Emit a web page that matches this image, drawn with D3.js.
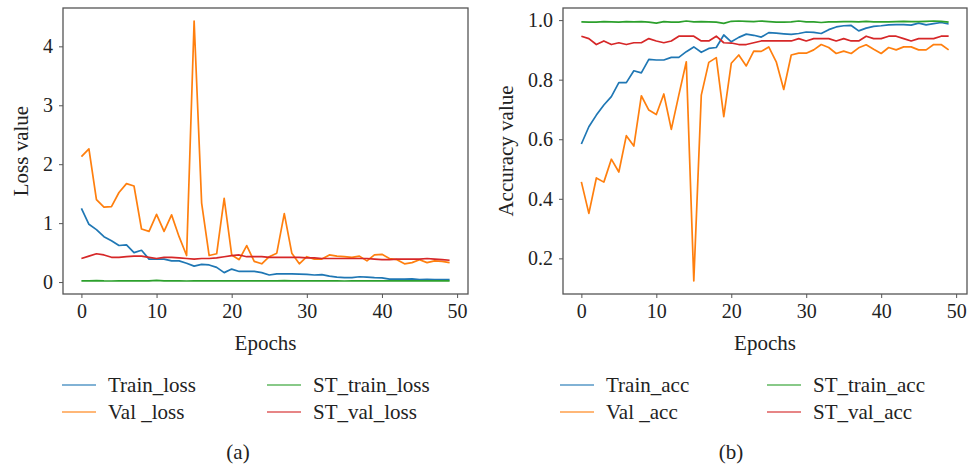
<!DOCTYPE html>
<html>
<head>
<meta charset="utf-8">
<script src="https://cdn.jsdelivr.net/npm/d3@7"></script>
<style>
  body { margin: 0; background: #fff; }
  svg text { font-family: "Liberation Serif", "DejaVu Serif", serif; fill: #222; }
</style>
</head>
<body>
<div class="chart-container"></div>
<script>
//! DATA
const epochs = [0,1,2,3,4,5,6,7,8,9,10,11,12,13,14,15,16,17,18,19,20,21,22,23,24,
  25,26,27,28,29,30,31,32,33,34,35,36,37,38,39,40,41,42,43,44,45,46,47,48,49];
const xTicks = [0, 10, 20, 30, 40, 50];

// (a) loss
const trainLoss = [1.25,0.98,0.89,0.77,0.70,0.62,0.63,0.50,0.54,0.39,0.39,0.39,0.36,0.36,0.32,0.27,0.30,0.29,0.25,0.16,
  0.22,0.18,0.18,0.18,0.16,0.12,0.14,0.14,0.14,0.135,0.13,0.12,0.125,0.10,0.085,0.075,0.075,0.09,0.085,0.075,
  0.07,0.05,0.05,0.05,0.055,0.04,0.045,0.04,0.04,0.04];
const valLoss = [2.13,2.26,1.40,1.27,1.28,1.52,1.67,1.63,0.90,0.86,1.15,0.86,1.14,0.77,0.45,4.43,1.34,0.45,0.48,1.42,
  0.46,0.38,0.62,0.35,0.31,0.43,0.49,1.16,0.49,0.31,0.43,0.39,0.39,0.46,0.44,0.43,0.42,0.44,0.36,0.46,
  0.47,0.40,0.38,0.31,0.33,0.38,0.33,0.36,0.35,0.33];
const stTrainLoss = [0.02,0.02,0.025,0.02,0.018,0.02,0.02,0.022,0.02,0.02,0.028,0.02,0.02,0.022,0.018,0.02,0.02,0.02,0.02,0.02,
  0.02,0.02,0.02,0.02,0.02,0.02,0.02,0.025,0.02,0.02,0.02,0.02,0.02,0.02,0.02,0.018,0.02,0.02,0.02,0.02,
  0.02,0.02,0.02,0.02,0.02,0.02,0.02,0.02,0.02,0.02];
const stValLoss = [0.40,0.44,0.48,0.46,0.42,0.42,0.43,0.44,0.44,0.42,0.40,0.42,0.42,0.41,0.40,0.39,0.40,0.40,0.41,0.43,
  0.45,0.46,0.43,0.43,0.43,0.42,0.42,0.42,0.42,0.42,0.41,0.41,0.40,0.40,0.40,0.40,0.40,0.40,0.40,0.39,
  0.38,0.38,0.39,0.39,0.39,0.39,0.40,0.39,0.38,0.37];
const lossTicks = [0, 1, 2, 3, 4];
const lossNames = ['Train_loss', 'Val _loss', 'ST_train_loss', 'ST_val_loss'];

// (b) accuracy
const trainAcc = [0.584,0.642,0.681,0.715,0.743,0.79,0.79,0.83,0.823,0.868,0.866,0.866,0.875,0.875,0.894,0.91,0.892,0.905,0.908,0.95,
  0.927,0.942,0.953,0.949,0.943,0.958,0.956,0.954,0.952,0.955,0.96,0.959,0.955,0.968,0.977,0.981,0.982,0.964,0.973,0.979,
  0.981,0.984,0.985,0.985,0.983,0.99,0.984,0.988,0.992,0.987];
const valAcc = [0.457,0.351,0.47,0.456,0.533,0.49,0.612,0.577,0.746,0.698,0.683,0.752,0.633,0.748,0.86,0.124,0.748,0.858,0.874,0.676,
  0.855,0.883,0.846,0.896,0.895,0.91,0.86,0.767,0.883,0.889,0.889,0.90,0.918,0.908,0.888,0.896,0.888,0.907,0.917,0.902,
  0.888,0.908,0.90,0.91,0.91,0.90,0.90,0.918,0.918,0.90];
const stTrainAcc = [0.994,0.993,0.993,0.995,0.994,0.993,0.995,0.994,0.995,0.993,0.990,0.995,0.993,0.993,0.997,0.994,0.995,0.994,0.993,0.989,
  0.996,0.997,0.996,0.995,0.997,0.995,0.993,0.993,0.994,0.997,0.994,0.994,0.992,0.994,0.994,0.995,0.995,0.994,0.996,0.994,
  0.994,0.994,0.995,0.996,0.995,0.995,0.996,0.997,0.996,0.993];
const stValAcc = [0.946,0.938,0.918,0.93,0.918,0.924,0.918,0.924,0.924,0.938,0.93,0.924,0.93,0.946,0.946,0.946,0.93,0.93,0.946,0.924,
  0.923,0.918,0.918,0.924,0.93,0.93,0.93,0.93,0.93,0.938,0.93,0.938,0.938,0.938,0.93,0.938,0.93,0.93,0.946,0.938,
  0.938,0.946,0.946,0.938,0.93,0.938,0.938,0.938,0.946,0.946];
const accTicks = [0.2, 0.4, 0.6, 0.8, 1.0];
const accNames = ['Train_acc', 'Val _acc', 'ST_train_acc', 'ST_val_acc'];

const colors = ['#1f77b4', '#ff7f0e', '#2ca02c', '#d62728'];

//! CONSTS
const width = 968;
const height = 466;
const tickFont = 20;
const labelFont = 21;
const plotTop = 8;
const plotBottom = 294;

const svg = d3.select('.chart-container')
  .append('svg')
  .attr('width', width)
  .attr('height', height);

const panels = [
  { left: 63, right: 468, series: [trainLoss, valLoss, stTrainLoss, stValLoss], names: lossNames,
    yTicks: lossTicks, yFormat: d3.format('d'), yLabel: 'Loss value', yLabelX: 21,
    legendX: [62, 267], caption: '(a)', captionX: 238 },
  { left: 563, right: 967, series: [trainAcc, valAcc, stTrainAcc, stValAcc], names: accNames,
    yTicks: accTicks, yFormat: d3.format('.1f'), yLabel: 'Accuracy value', yLabelX: 506,
    legendX: [560, 767], caption: '(b)', captionX: 731 }
];

// matplotlib style 5% margins
const padded = (lo, hi) => {
  const m = (hi - lo) * 0.05;
  return [lo - m, hi + m];
};

panels.forEach((p) => {
  const g = svg.append('g');

  //! SCALES
  const xScale = d3.scaleLinear()
    .domain(padded(d3.min(epochs), d3.max(epochs)))
    .range([p.left, p.right]);

  const allValues = p.series.flat();
  const yScale = d3.scaleLinear()
    .domain(padded(d3.min(allValues), d3.max(allValues)))
    .range([plotBottom, plotTop]);

  //! AXIS
  const xAxis = d3.axisBottom(xScale)
    .tickValues(xTicks)
    .tickSize(4)
    .tickPadding(6)
    .tickFormat(d3.format('d'));

  const yAxis = d3.axisLeft(yScale)
    .tickValues(p.yTicks)
    .tickSize(4)
    .tickPadding(6)
    .tickFormat(p.yFormat);

  const gx = g.append('g')
    .attr('transform', `translate(0,${plotBottom})`)
    .call(xAxis);
  const gy = g.append('g')
    .attr('transform', `translate(${p.left},0)`)
    .call(yAxis);

  [gx, gy].forEach((ax) => {
    ax.select('.domain').remove();
    ax.selectAll('.tick line').attr('stroke', '#555').attr('stroke-width', 1);
    ax.selectAll('.tick text')
      .attr('font-size', tickFont)
      .attr('font-family', '"Liberation Serif", serif')
      .attr('fill', '#222');
  });

  //! LINES
  const line = d3.line()
    .x((d, i) => xScale(epochs[i]))
    .y((d) => yScale(d));

  g.selectAll('path.series')
    .data(p.series)
    .enter()
    .append('path')
    .attr('class', 'series')
    .attr('d', line)
    .attr('fill', 'none')
    .attr('stroke', (d, i) => colors[i])
    .attr('stroke-width', 1.7)
    .attr('stroke-linejoin', 'round');

  // frame
  g.append('rect')
    .attr('x', p.left)
    .attr('y', plotTop)
    .attr('width', p.right - p.left)
    .attr('height', plotBottom - plotTop)
    .attr('fill', 'none')
    .attr('stroke', '#555')
    .attr('stroke-width', 1.3);

  //! LABELS
  g.append('text')
    .attr('x', (p.left + p.right) / 2)
    .attr('y', 350)
    .attr('text-anchor', 'middle')
    .attr('font-size', labelFont)
    .text('Epochs');

  g.append('text')
    .attr('transform', `translate(${p.yLabelX},${(plotTop + plotBottom) / 2}) rotate(-90)`)
    .attr('text-anchor', 'middle')
    .attr('dominant-baseline', 'central')
    .attr('font-size', labelFont)
    .text(p.yLabel);

  //! LEGEND
  const legendRows = [385, 412];
  const items = g.selectAll('g.legend-item')
    .data(p.names)
    .enter()
    .append('g')
    .attr('class', 'legend-item')
    .attr('transform', (d, i) => `translate(${p.legendX[Math.floor(i / 2)]},${legendRows[i % 2]})`);

  items.append('line')
    .attr('x1', 0)
    .attr('x2', 34)
    .attr('stroke', (d, i) => colors[i])
    .attr('stroke-width', 1.6)
    .attr('opacity', 0.75);

  items.append('text')
    .attr('x', 46)
    .attr('dy', '0.33em')
    .attr('font-size', labelFont)
    .text((d) => d);

  g.append('text')
    .attr('x', p.captionX)
    .attr('y', 452)
    .attr('dy', '0.33em')
    .attr('text-anchor', 'middle')
    .attr('font-size', labelFont)
    .text(p.caption);
});
</script>
</body>
</html>
